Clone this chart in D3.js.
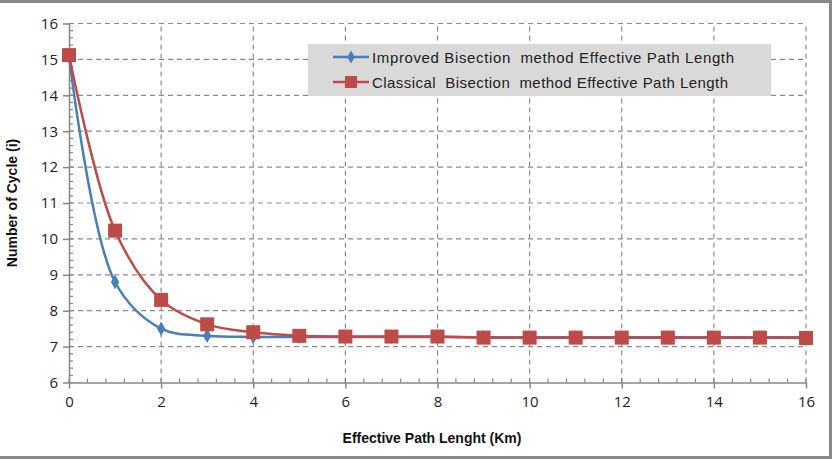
<!DOCTYPE html>
<html lang="en">
<head>
    <meta charset="UTF-8">
    <title>Number of Cycle vs Effective Path Length</title>
    <script src="https://cdnjs.cloudflare.com/ajax/libs/d3/7.8.5/d3.min.js"></script>
    <style>
        body {
            margin: 0;
            padding: 0;
            background-color: #fff;
            font-family: "Liberation Sans", Arial, sans-serif;
        }
        .grid line {
            stroke: #8c8c8c;
            stroke-dasharray: 5,4;
            stroke-width: 1.2;
        }
        .axis path, .axis line {
            stroke: #868686;
            stroke-width: 1.5;
        }
        .axis text {
            font-size: 15px;
            fill: #222;
            font-family: "Open Sans", sans-serif;
        }
    </style>
</head>
<body>
    <div id="chart"></div>

    <script>
        // Data
        const pathLength = [0, 1, 2, 3, 4, 5, 6, 7, 8, 9, 10, 11, 12, 13, 14, 15, 16];
        const improved   = [15.1, 8.8, 7.5, 7.3, 7.27, 7.27, 7.27, 7.27, 7.27, 7.26, 7.26, 7.26, 7.26, 7.26, 7.26, 7.26, 7.26];
        const classical  = [15.12, 10.23, 8.3, 7.62, 7.4, 7.3, 7.28, 7.28, 7.28, 7.25, 7.25, 7.25, 7.25, 7.25, 7.25, 7.25, 7.24];
        const xTicks = [0, 2, 4, 6, 8, 10, 12, 14, 16];
        const yTicks = [6, 7, 8, 9, 10, 11, 12, 13, 14, 15, 16];
        const seriesNames = [
            'Improved Bisection  method Effective Path Length',
            'Classical  Bisection  method Effective Path Length'
        ];

        const width = 837, height = 462;
        const margin = {left: 69, right: 31, top: 23.5, bottom: 79.5};

        const svg = d3.select('#chart').append('svg')
            .attr('width', width)
            .attr('height', height);

        // outer chart border (left edge is cropped in the reference)
        svg.append('path')
            .attr('d', `M0,1.5 H830.5 V457.5 H0`)
            .attr('fill', 'none')
            .attr('stroke', '#888')
            .attr('stroke-width', 3);

        const x = d3.scaleLinear().domain([0, 16]).range([margin.left, width - margin.right]);
        const y = d3.scaleLinear().domain([6, 16]).range([height - margin.bottom, margin.top]);

        // gridlines
        const grid = svg.append('g').attr('class', 'grid');
        grid.selectAll('.h').data(yTicks.filter(d => d > 6)).enter().append('line')
            .attr('x1', x(0)).attr('x2', x(16))
            .attr('y1', d => y(d)).attr('y2', d => y(d));
        grid.selectAll('.v').data(xTicks.filter(d => d > 0)).enter().append('line')
            .attr('x1', d => x(d)).attr('x2', d => x(d))
            .attr('y1', y(6)).attr('y2', y(16));

        // minor ticks (inside the plot)
        const minor = svg.append('g').attr('stroke', '#868686').attr('stroke-width', 1.2);
        minor.selectAll('.mx').data(d3.range(0, 16.01, 0.4)).enter().append('line')
            .attr('x1', d => x(d)).attr('x2', d => x(d))
            .attr('y1', y(6)).attr('y2', y(6) - 4);
        minor.selectAll('.my').data(d3.range(6, 16.01, 0.2)).enter().append('line')
            .attr('x1', x(0)).attr('x2', x(0) + 4)
            .attr('y1', d => y(d)).attr('y2', d => y(d));

        // axes
        svg.append('g').attr('class', 'axis')
            .attr('transform', `translate(0,${y(6)})`)
            .call(d3.axisBottom(x).tickValues(xTicks).tickSize(6).tickSizeOuter(0).tickPadding(8));
        svg.append('g').attr('class', 'axis')
            .attr('transform', `translate(${x(0)},0)`)
            .call(d3.axisLeft(y).tickValues(yTicks).tickSize(6).tickSizeOuter(0).tickPadding(5));

        // axis titles
        svg.append('text')
            .attr('x', 432).attr('y', 443)
            .attr('text-anchor', 'middle')
            .style('font-size', '14px').style('font-weight', 'bold').style('fill', '#111')
            .text('Effective Path Lenght (Km)');
        svg.append('text')
            .attr('transform', `translate(17,${y(11)}) rotate(-90)`)
            .attr('text-anchor', 'middle')
            .style('font-size', '14px').style('font-weight', 'bold').style('fill', '#111')
            .text('Number of Cycle (i)');

        // series
        const blue = '#4a7ebb', red = '#be4b48';
        const line = d3.line().x(d => x(d[0])).y(d => y(d[1])).curve(d3.curveCatmullRom.alpha(0.5));

        const blueData = pathLength.map((d, i) => [d, improved[i]]);
        const redData = pathLength.map((d, i) => [d, classical[i]]);

        svg.append('path').datum(blueData)
            .attr('d', line).attr('fill', 'none')
            .attr('stroke', blue).attr('stroke-width', 2.5);
        svg.append('g').selectAll('path').data(blueData).enter().append('path')
            .attr('d', d3.symbol(d3.symbolDiamond, 60))
            .attr('transform', d => `translate(${x(d[0])},${y(d[1])})`)
            .attr('fill', blue);

        svg.append('path').datum(redData)
            .attr('d', line).attr('fill', 'none')
            .attr('stroke', red).attr('stroke-width', 2.5);
        svg.append('g').selectAll('rect').data(redData).enter().append('rect')
            .attr('x', d => x(d[0]) - 7).attr('y', d => y(d[1]) - 7)
            .attr('width', 14).attr('height', 14)
            .attr('fill', red);

        // legend
        const legend = svg.append('g').attr('transform', 'translate(308,44)');
        legend.append('rect').attr('width', 463).attr('height', 52).attr('fill', '#d9d9d9');
        const items = [{name: seriesNames[0], color: blue, sym: 'diamond', len: 362},
                       {name: seriesNames[1], color: red, sym: 'square', len: 356}];
        items.forEach((it, i) => {
            const g = legend.append('g').attr('transform', `translate(0,${13 + i * 25})`);
            g.append('line').attr('x1', 25).attr('x2', 61)
                .attr('stroke', it.color).attr('stroke-width', 2.5);
            if (it.sym === 'diamond') {
                g.append('path').attr('d', d3.symbol(d3.symbolDiamond, 50))
                    .attr('transform', 'translate(43,0)').attr('fill', it.color);
            } else {
                g.append('rect').attr('x', 37).attr('y', -6).attr('width', 12).attr('height', 12)
                    .attr('fill', it.color);
            }
            g.append('text').attr('x', 64).attr('y', 5.5)
                .attr('textLength', it.len)
                .style('font-size', '15px').style('fill', '#222')
                .style('white-space', 'pre')
                .text(it.name);
        });
    </script>
</body>
</html>
